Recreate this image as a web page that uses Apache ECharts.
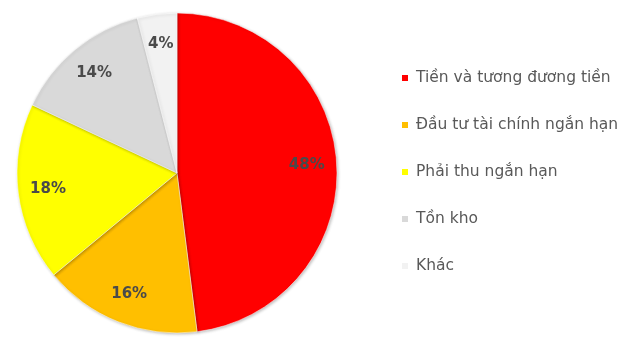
<!DOCTYPE html>
<html>
<head>
<meta charset="utf-8">
<script src="https://cdn.jsdelivr.net/npm/echarts@6/dist/echarts.min.js"></script>
<style>
  html, body { margin: 0; padding: 0; background: #fff; }
  #chart { width: 620px; height: 338px; }
</style>
</head>
<body>
<div id="chart"></div>
<script>
// Asset structure (short-term assets), percentage shares
const categories = [
  'Tiền và tương đương tiền',
  'Đầu tư tài chính ngắn hạn',
  'Phải thu ngắn hạn',
  'Tồn kho',
  'Khác'
];
const shares = [48, 16, 18, 14, 4];
const colors = ['#FF0000', '#FFBF00', '#FFFF00', '#D9D9D9', '#F2F2F2'];

const CENTER = [177, 173];
const OUTER = 160;

const sliceData = categories.map((name, i) => ({
  name: name,
  value: shares[i],
  itemStyle: { color: colors[i] }
}));

const chart = echarts.init(document.getElementById('chart'), null, { renderer: 'canvas' });
chart.setOption({
  animation: false,
  backgroundColor: '#ffffff',
  legend: {
    orient: 'vertical',
    left: 395,
    top: 65,
    icon: 'rect',
    itemWidth: 8,
    itemHeight: 8,
    itemGap: 31,
    selectedMode: false,
    textStyle: {
      fontFamily: 'DejaVu Sans',
      fontSize: 15.5,
      color: '#595959',
      padding: [0, 0, 0, 2]
    },
    data: categories
  },
  series: [
    {
      // the pie slices
      type: 'pie',
      center: CENTER,
      radius: [0, OUTER],
      startAngle: 90,
      clockwise: true,
      avoidLabelOverlap: false,
      silent: true,
      itemStyle: {
        borderColor: '#ffffff',
        borderWidth: 0.5,
        shadowBlur: 3,
        shadowOffsetX: 1,
        shadowOffsetY: 1,
        shadowColor: 'rgba(0,0,0,0.25)'
      },
      label: { show: false },
      labelLine: { show: false },
      data: sliceData
    },
    {
      // percentage labels placed toward the outer rim
      type: 'pie',
      center: CENTER,
      radius: [94, OUTER],
      startAngle: 90,
      clockwise: true,
      avoidLabelOverlap: false,
      silent: true,
      legendHoverLink: false,
      itemStyle: { color: 'rgba(0,0,0,0)' },
      label: {
        show: true,
        position: 'inside',
        formatter: '{c}%',
        fontFamily: 'DejaVu Sans',
        fontSize: 15,
        fontWeight: 'bold',
        color: '#4a4a4a'
      },
      labelLine: { show: false },
      data: categories.map((name, i) => ({ name: name + ' ', value: shares[i] }))
    }
  ]
});
</script>
</body>
</html>
